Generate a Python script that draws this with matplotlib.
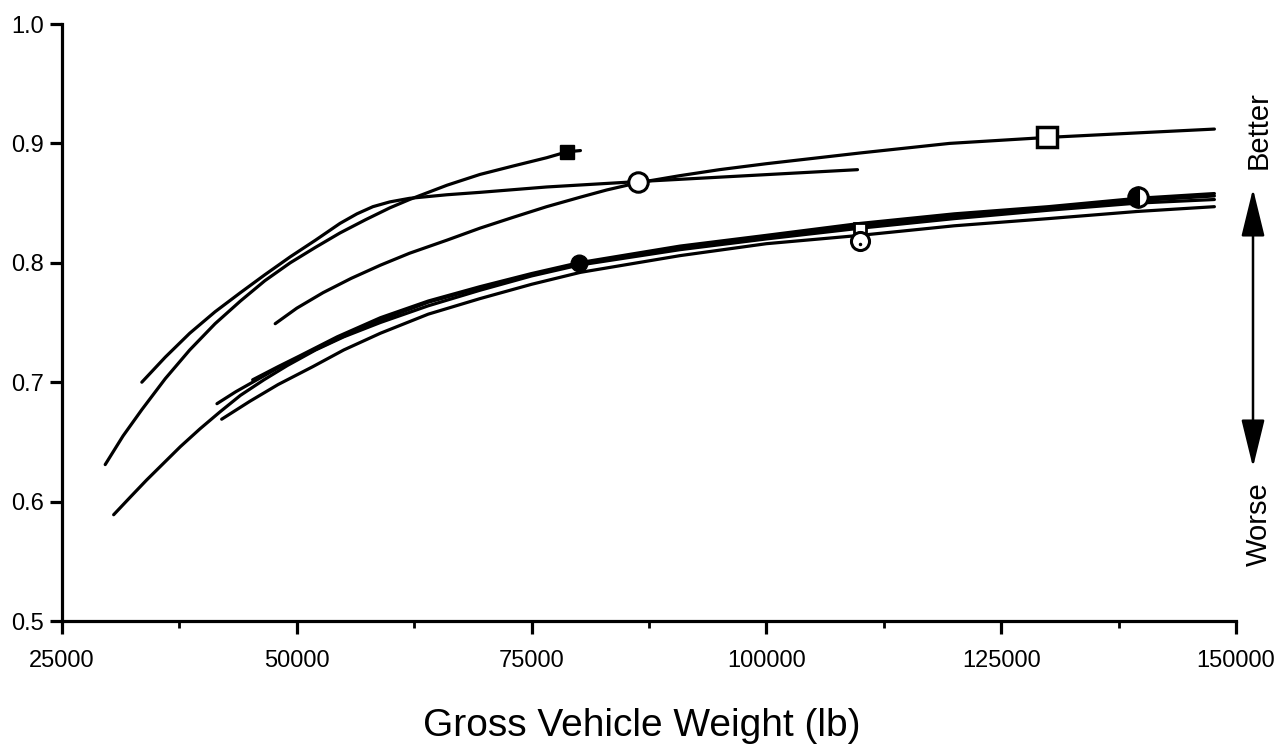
import matplotlib
matplotlib.use("Agg")
import matplotlib.pyplot as plt

plt.rcParams['font.family'] = ['Liberation Sans', 'DejaVu Sans']

# ---- data ----
curve_a_x = [29600, 31500, 33500, 36000, 38600, 41300, 44000, 46600, 49300, 52000, 54600, 57300, 59900, 62000, 66000, 69500, 73000, 76600, 78800, 80200]
curve_a_y = [0.631, 0.655, 0.677, 0.703, 0.727, 0.749, 0.768, 0.785, 0.800, 0.813, 0.825, 0.836, 0.846, 0.853, 0.865, 0.874, 0.881, 0.888, 0.893, 0.894]

curve_b_x = [33500, 36000, 38600, 41300, 44000, 46600, 49300, 52000, 54600, 56400, 58100, 59900, 62000, 66000, 69500, 76600, 86300, 98000, 109700]
curve_b_y = [0.700, 0.721, 0.741, 0.759, 0.775, 0.790, 0.805, 0.819, 0.833, 0.841, 0.847, 0.851, 0.854, 0.857, 0.859, 0.8635, 0.868, 0.873, 0.878]

curve_c_x = [47700, 50000, 52800, 55800, 58900, 62000, 66000, 69500, 73000, 76600, 80200, 83000, 86300, 90800, 95000, 100000, 110000, 119500, 129900, 140000, 147700]
curve_c_y = [0.749, 0.762, 0.775, 0.787, 0.798, 0.808, 0.819, 0.829, 0.838, 0.847, 0.855, 0.861, 0.867, 0.873, 0.878, 0.883, 0.892, 0.900, 0.905, 0.909, 0.912]

curve_l1_x = [41500, 43500, 45300, 48000, 50300, 54300, 58900, 64000, 69500, 75000, 80000, 90800, 100000, 110000, 120000, 130000, 139500, 147700]
curve_l1_y = [0.682, 0.692, 0.700, 0.712, 0.721, 0.736, 0.752, 0.767, 0.779, 0.790, 0.799, 0.813, 0.822, 0.831, 0.839, 0.846, 0.852, 0.856]

curve_l3_x = [30500, 32300, 34000, 35800, 37600, 39700, 41800, 44000, 46500, 49000, 52000, 55000, 58900, 64000, 69500, 75000, 80000, 90800, 100000, 110000, 120000, 130000, 139500, 147700]
curve_l3_y = [0.589, 0.604, 0.618, 0.632, 0.646, 0.661, 0.675, 0.689, 0.702, 0.714, 0.727, 0.738, 0.750, 0.764, 0.777, 0.789, 0.798, 0.811, 0.820, 0.829, 0.837, 0.844, 0.850, 0.853]

curve_l4_x = [45300, 48000, 50300, 54300, 58900, 64000, 69500, 75000, 80000, 90800, 100000, 110000, 120000, 130000, 139500, 147700]
curve_l4_y = [0.702, 0.713, 0.722, 0.738, 0.754, 0.768, 0.780, 0.791, 0.800, 0.814, 0.823, 0.833, 0.841, 0.847, 0.854, 0.858]

curve_lbot_x = [42000, 45000, 48000, 51700, 55000, 58900, 64000, 69500, 75000, 80200, 90800, 100000, 110000, 120000, 130000, 139500, 147700]
curve_lbot_y = [0.669, 0.684, 0.698, 0.713, 0.727, 0.741, 0.757, 0.770, 0.782, 0.792, 0.806, 0.816, 0.823, 0.831, 0.837, 0.843, 0.847]

# marker points
sq_filled = (78800, 0.893)
circ_open = (86300, 0.868)
sq_open = (129900, 0.905)
circ_filled = (80000, 0.800)
circ_dotted = (110000, 0.818)
sq_small = (110000, 0.828)
circ_half = (139600, 0.855)

x_ticks = [25000, 50000, 75000, 100000, 125000, 150000]
x_minor = [37500, 62500, 87500, 112500, 137500]
y_ticks = [0.5, 0.6, 0.7, 0.8, 0.9, 1.0]
x_label = "Gross Vehicle Weight (lb)"

# ---- figure ----
fig = plt.figure(figsize=(12.86, 7.53), dpi=100)
ax = fig.add_axes([62/1286, 1 - 621/753, (1236-62)/1286, (621-24)/753])

lw = 2.3
curves = [(curve_a_x, curve_a_y), (curve_b_x, curve_b_y), (curve_c_x, curve_c_y),
          (curve_l1_x, curve_l1_y), (curve_l3_x, curve_l3_y), (curve_l4_x, curve_l4_y),
          (curve_lbot_x, curve_lbot_y)]
for cx, cy in curves:
    ax.plot(cx, cy, color='black', lw=lw, solid_capstyle='round', solid_joinstyle='round')

mk = dict(linestyle='none', zorder=5, markeredgecolor='black')
ax.plot(*sq_filled, marker='s', ms=10, mfc='black', **mk)
ax.plot(*circ_open, marker='o', ms=14, mfc='white', mew=2.2, **mk)
ax.plot(*sq_open, marker='s', ms=15, mfc='white', mew=2.5, **mk)
ax.plot(*circ_filled, marker='o', ms=12, mfc='black', **mk)
ax.plot(*sq_small, marker='s', ms=8, mfc='white', mew=2.0, **mk)
ax.plot(*circ_dotted, marker='o', ms=13, mfc='white', mew=2.2, **mk)
ax.plot(circ_dotted[0], circ_dotted[1] - 0.002, marker='.', ms=3, color='black', linestyle='none', zorder=6)
ax.plot(*circ_half, marker='o', ms=14, fillstyle='left', mfc='black',
        markerfacecoloralt='white', mew=2.2, **mk)

ax.set_xlim(25000, 150000)
ax.set_ylim(0.5, 1.0)
ax.set_xticks(x_ticks)
ax.set_xticks(x_minor, minor=True)
ax.set_yticks(y_ticks)
ax.set_xticklabels([str(v) for v in x_ticks])
ax.set_yticklabels([f"{v:.1f}" for v in y_ticks])

for s in ['top', 'right']:
    ax.spines[s].set_visible(False)
for s in ['left', 'bottom']:
    ax.spines[s].set_linewidth(2.3)

ax.tick_params(axis='both', which='major', direction='out', length=9, width=2.3,
               labelsize=17, pad=4)
ax.tick_params(axis='x', which='minor', direction='out', length=5, width=2.0)
ax.tick_params(axis='x', which='major', pad=12)

fig.text(642/1286, 1 - 726/753, x_label, ha='center', va='center', fontsize=28)

# Better / Worse arrow
ax_arrow_x = 1253/1286
fig.patches.append(matplotlib.patches.FancyArrowPatch(
    (ax_arrow_x, 1 - 470/753), (ax_arrow_x, 1 - 186/753),
    transform=fig.transFigure, arrowstyle='<|-|>,head_length=1.35,head_width=0.33',
    mutation_scale=22, color='black', lw=1.8))
fig.text(1259/1286, 1 - 130/753, "Better", rotation=90, ha='center', va='center', fontsize=21)
fig.text(1259/1286, 1 - 524/753, "Worse", rotation=90, ha='center', va='center', fontsize=21)

fig.savefig("out.png", dpi=100)
